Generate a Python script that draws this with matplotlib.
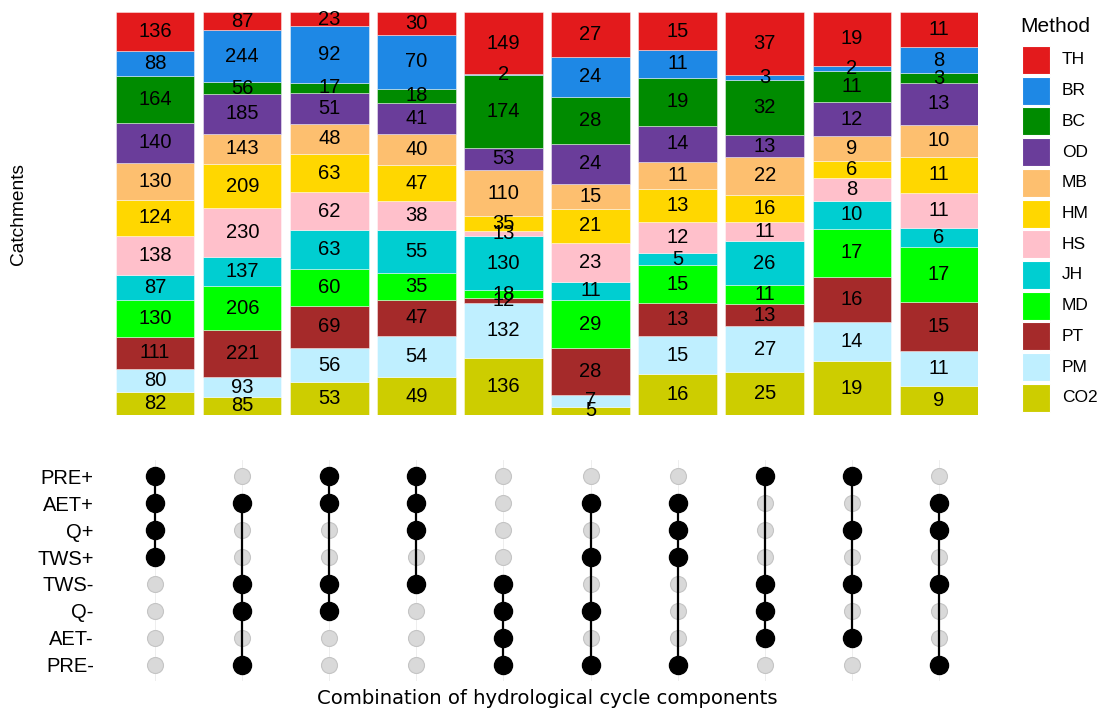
import numpy as np
import matplotlib
matplotlib.use("Agg")
import matplotlib.pyplot as plt
from matplotlib.patches import Rectangle

# methods, top of the stack first
methods = ["TH", "BR", "BC", "OD", "MB", "HM", "HS", "JH", "MD", "PT", "PM", "CO2"]
colors = ["#E31A1C", "#1E88E5", "#008B00", "#6A3D9A", "#FDBF6F", "#FFD700",
          "#FFC0CB", "#00CED1", "#00FF00", "#A52A2A", "#BFEFFF", "#CDCD00"]

# catchment counts per combination (columns), same order as methods
counts = np.array([
    [136, 88, 164, 140, 130, 124, 138, 87, 130, 111, 80, 82],
    [87, 244, 56, 185, 143, 209, 230, 137, 206, 221, 93, 85],
    [23, 92, 17, 51, 48, 63, 62, 63, 60, 69, 56, 53],
    [30, 70, 18, 41, 40, 47, 38, 55, 35, 47, 54, 49],
    [149, 2, 174, 53, 110, 35, 13, 130, 18, 12, 132, 136],
    [27, 24, 28, 24, 15, 21, 23, 11, 29, 28, 7, 5],
    [15, 11, 19, 14, 11, 13, 12, 5, 15, 13, 15, 16],
    [37, 3, 32, 13, 22, 16, 11, 26, 11, 13, 27, 25],
    [19, 2, 11, 12, 9, 6, 8, 10, 17, 16, 14, 19],
    [11, 8, 3, 13, 10, 11, 11, 6, 17, 15, 11, 9],
])

components = ["PRE+", "AET+", "Q+", "TWS+", "TWS-", "Q-", "AET-", "PRE-"]
combos = [
    ["PRE+", "AET+", "Q+", "TWS+"],
    ["AET+", "TWS-", "Q-", "PRE-"],
    ["PRE+", "AET+", "TWS-", "Q-"],
    ["PRE+", "AET+", "Q+", "TWS-"],
    ["TWS-", "Q-", "AET-", "PRE-"],
    ["AET+", "TWS+", "Q-", "PRE-"],
    ["AET+", "Q+", "TWS+", "PRE-"],
    ["PRE+", "TWS-", "Q-", "AET-"],
    ["PRE+", "Q+", "TWS-", "AET-"],
    ["AET+", "Q+", "TWS-", "PRE-"],
]

plt.rcParams['font.family'] = ['Liberation Sans', 'DejaVu Sans']

W, H = 1100, 709
fig = plt.figure(figsize=(11, 7.09), dpi=100)
ax = fig.add_axes([116/W, 1-415/H, 862/W, 403/H])
ax2 = fig.add_axes([116/W, 1-681/H, 862/W, 221/H])

x = np.arange(len(combos))
frac = counts / counts.sum(axis=1, keepdims=True)

# stack from the bottom (CO2) up to TH
bottom = np.zeros(len(combos))
for j in range(len(methods) - 1, -1, -1):
    ax.bar(x, frac[:, j], 0.9, bottom=bottom, color=colors[j],
           edgecolor=(1, 1, 1, 0.5), linewidth=0.6)
    for i in range(len(combos)):
        ax.text(x[i], bottom[i] + frac[i, j] / 2, str(counts[i, j]),
                ha='center', va='center', fontsize=14.5, color='black')
    bottom += frac[:, j]

ax.set_xlim(-0.45, len(combos) - 0.55)
ax.set_ylim(0, 1)
ax.axis('off')
fig.text(19/W, 1-214/H, "Catchments", rotation=90, ha='center', va='center',
         fontsize=13.8)

# dot matrix
ypos = np.arange(len(components))
for i, c in enumerate(combos):
    ax2.axvline(i, color='#ebebeb', lw=0.6, zorder=0)
    ax2.plot([i] * len(components), ypos, 'o', ms=11.5, color='#d9d9d9',
             markeredgecolor='#c4c4c4', markeredgewidth=0.8, zorder=1)
    on = [components.index(k) for k in c]
    ax2.plot([i, i], [min(on), max(on)], color='black', lw=1.6, zorder=2)
    ax2.plot([i] * len(on), on, 'o', ms=13, color='black', zorder=3)

ax2.set_xlim(-0.45, len(combos) - 0.55)
ax2.set_ylim(len(components) - 0.4, -0.6)
ax2.set_yticks(ypos)
ax2.set_yticklabels(components, fontsize=14.5)
ax2.tick_params(axis='y', length=0, pad=16)
ax2.set_xticks([])
for s in ax2.spines.values():
    s.set_visible(False)

fig.text(547/W, 1-698/H, "Combination of hydrological cycle components",
         ha='center', va='center', fontsize=14.1, family='DejaVu Sans')

# legend, drawn by hand so the keys match the reference size
fig.text(1020/W, 1-26/H, "Method", ha='left', va='center', fontsize=15)
for k in range(len(methods)):
    top = 46 + 30.7 * k
    fig.patches.append(Rectangle((1022/W, 1-(top+28)/H), 28/W, 28/H,
                                 facecolor=colors[k], edgecolor='white', lw=0.8,
                                 transform=fig.transFigure, figure=fig))
    fig.text(1062/W, 1-(top+14)/H, methods[k], ha='left', va='center',
             fontsize=12.5)

fig.savefig("out.png", dpi=100)
